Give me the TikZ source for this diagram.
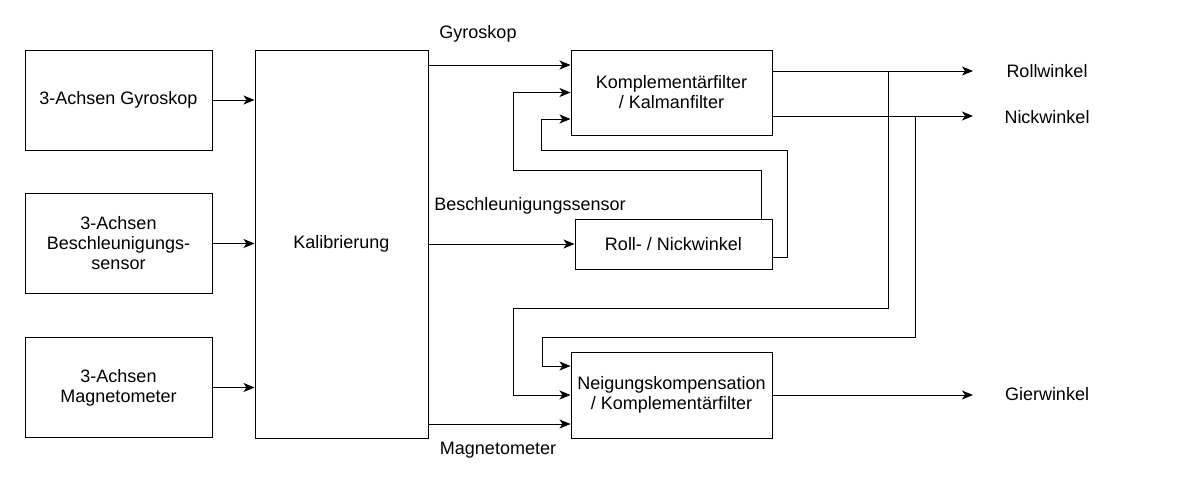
\documentclass[tikz,border=0pt]{standalone}
\usepackage{fontspec}
\setmainfont{Liberation Sans}
\usetikzlibrary{arrows.meta}
\usetikzlibrary{calc}
\tikzset{blockBox/.style={draw, line width=0.5pt, align=center, inner sep=0pt}}
\tikzset{sensorBox/.style={blockBox, minimum width=93.5pt, minimum height=50pt}}
\tikzset{filterBox/.style={blockBox, minimum width=100.5pt, minimum height=42.5pt}}
\tikzset{signalLabel/.style={inner sep=0pt}}
\tikzset{flow/.style={line width=0.5pt, -{Stealth[length=5.5pt, width=4.5pt, inset=1.5pt]}}}
\tikzset{line/.style={line width=0.5pt}}

\begin{document}
\begin{tikzpicture}[x=0.5pt, y=-0.5pt, font=\fontsize{9}{10}\selectfont]

\useasboundingbox (0,0) rectangle (1177,487);

% sensors
\node[sensorBox] (gyro) at (118.5, 100) {3-Achsen Gyroskop};
\node[sensorBox] (accel) at (118.5, 243.5) {3-Achsen\\Beschleunigungs-\\sensor};
\node[sensorBox] (magn) at (118.5, 387.5) {3-Achsen\\Magnetometer};

\node[blockBox, minimum width=86.5pt, minimum height=194pt] (kal) at (341.5, 244) {Kalibrierung};

% filters
\node[filterBox] (kf) at (671.5, 92.5) {Komplementärfilter\\/ Kalmanfilter};
\node[blockBox, minimum width=98.5pt, minimum height=25pt] (rn) at (673.5, 244) {Roll- / Nickwinkel};
\node[filterBox, minimum height=43pt] (nk) at (671.5, 395) {Neigungskompensation\\/ Komplementärfilter};

\coordinate (kfin1) at ([yshift=13.75pt]kf.west);
\coordinate (kfin2) at (kf.west);
\coordinate (kfin3) at ([yshift=-13.25pt]kf.west);
\coordinate (nkin1) at ([yshift=14.5pt]nk.west);
\coordinate (nkin2) at (nk.west);
\coordinate (nkin3) at ([yshift=-14.5pt]nk.west);
\coordinate (kfout1) at ([yshift=10.75pt]kf.east);
\coordinate (kfout2) at ([yshift=-11.75pt]kf.east);

% signal labels
\node[signalLabel] (lgyro) at (478, 34) {Gyroskop};
\node[signalLabel] (laccel) at (530, 206) {Beschleunigungssensor};
\node[signalLabel] (lmagn) at (498, 450) {Magnetometer};
\node[signalLabel] (roll) at (1047, 71) {Rollwinkel};
\node[signalLabel] (nick) at (1047, 117) {Nickwinkel};
\node[signalLabel] (gier) at (1047, 394) {Gierwinkel};

\coordinate (rollend) at (973, 71);
\coordinate (nickend) at (973, 116);
\coordinate (gierend) at (973, 395);
\coordinate (tapRoll) at (888, 71);
\coordinate (tapNick) at (915, 116);

\draw[flow] (gyro) to (kal.west |- gyro);
\draw[flow] (accel) to (kal.west |- accel);
\draw[flow] (magn) to (kal.west |- magn);

\draw[flow] (kal.east |- kfin1) to (kfin1);
\draw[flow] (kal.east) to (rn.west);
\draw[flow] (kal.east |- nkin3) to (nkin3);

% feedback into the filter
\draw[flow] ([xshift=43.75pt]rn.north) |- (513, 170) |- (kfin2);
\draw[flow] ([yshift=-6.5pt]rn.east) -| (787, 150) -| ([xshift=-14.5pt]kfin3) -- (kfin3);

% outputs
\draw[flow] (kfout1) to (rollend);
\draw[flow] (kfout2) to (nickend);
\draw[flow] (nk.east) to (gierend);

\draw[flow] (tapRoll) |- (513, 308) |- (nkin2);
\draw[flow] (tapNick) |- (542, 337) |- (nkin1);

\end{tikzpicture}
\end{document}
